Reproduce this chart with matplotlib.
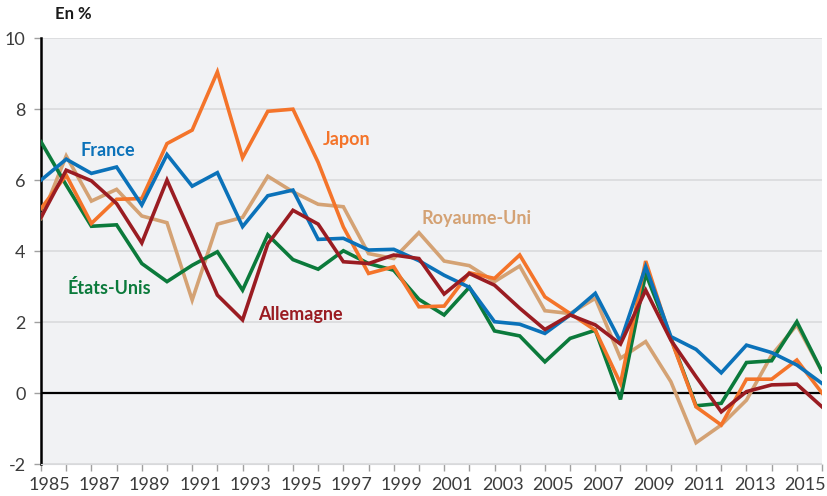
import matplotlib
matplotlib.use("Agg")
from matplotlib import pyplot as plt
import numpy as np

plt.rcParams['font.family'] = ['Lato', 'DejaVu Sans']

# années 1985 à 2016
years = list(range(1985, 2017))

france = [6.0, 6.59, 6.19, 6.37, 5.30, 6.72, 5.83, 6.21, 4.69, 5.56, 5.72, 4.33, 4.36, 4.03,
          4.05, 3.73, 3.32, 2.98, 2.01, 1.94, 1.68, 2.2, 2.81, 1.45, 3.56, 1.59, 1.23, 0.57,
          1.35, 1.14, 0.79, 0.27]
japon = [5.2, 6.14, 4.78, 5.46, 5.48, 7.03, 7.41, 9.05, 6.63, 7.94, 8.0, 6.5, 4.68, 3.37,
         3.56, 2.43, 2.45, 3.39, 3.23, 3.89, 2.71, 2.24, 1.77, 0.27, 3.72, 1.52, -0.39, -0.9,
         0.39, 0.39, 0.93, 0.0]
etats_unis = [7.08, 5.86, 4.70, 4.74, 3.65, 3.14, 3.6, 3.98, 2.90, 4.46, 3.76, 3.49, 4.01,
              3.65, 3.46, 2.64, 2.20, 2.98, 1.75, 1.61, 0.88, 1.54, 1.77, -0.18, 3.37, 1.55,
              -0.36, -0.29, 0.86, 0.91, 2.01, 0.6]
royaume_uni = [4.92, 6.68, 5.41, 5.74, 4.99, 4.8, 2.62, 4.76, 4.95, 6.11, 5.67, 5.32, 5.25,
               3.93, 3.79, 4.52, 3.72, 3.59, 3.14, 3.58, 2.32, 2.24, 2.67, 0.98, 1.45, 0.32,
               -1.4, -0.9, -0.2, 1.07, 1.92, 0.6]
allemagne = [4.95, 6.28, 5.98, 5.34, 4.23, 6.0, 4.4, 2.76, 2.06, 4.2, 5.15, 4.76, 3.70, 3.65,
             3.89, 3.79, 2.79, 3.37, 3.04, 2.39, 1.79, 2.2, 1.92, 1.38, 2.9, 1.49, 0.46, -0.53,
             0.04, 0.23, 0.25, -0.39]

series = [
    ("Royaume-Uni", royaume_uni, "#d4a274", (2000.1, 4.93)),
    ("États-Unis", etats_unis, "#0b7a3b", (1986.05, 2.95)),
    ("Japon", japon, "#f4742a", (1996.2, 7.15)),
    ("France", france, "#0b72b9", (1986.55, 6.83)),
    ("Allemagne", allemagne, "#9a1c22", (1993.6, 2.2)),
]

fig = plt.figure(figsize=(8.27, 4.96), dpi=100)
ax = fig.add_axes([0.0496, 0.0645, 0.9444, 0.8585])
ax.set_facecolor("#f1f2f4")

for name, vals, col, (lx, ly) in series:
    ax.plot(years, vals, color=col, lw=2.6, solid_joinstyle="miter", zorder=3)
    ax.text(lx, ly, name, color=col, fontsize=13, fontweight="bold", ha="left",
            va="center", zorder=4)

ax.axhline(0, color="black", lw=1.6, zorder=2)

ax.set_xlim(1985, 2016)
ax.set_ylim(-2, 10)
ax.set_yticks(range(-2, 11, 2))
ax.set_yticklabels([str(v) for v in range(-2, 11, 2)])
ax.grid(axis="y", color="#d8d9db", lw=1.1, zorder=1)

# traits de graduation chaque année, étiquettes un peu décalées à droite
ax.set_xticks(years, minor=True)
ax.set_xticks([y + 0.32 for y in years[::2]])
ax.set_xticklabels([str(y) for y in years[::2]])
ax.tick_params(axis="x", which="minor", length=5, width=1, color="#a0a0a0")
ax.tick_params(axis="x", which="major", length=0, labelsize=13,
               labelcolor="#3c3c3c", pad=9)
ax.tick_params(axis="y", length=5, width=1, color="#a0a0a0", labelsize=13,
               labelcolor="#3c3c3c", pad=6)

for s in ["top", "right"]:
    ax.spines[s].set_visible(False)
ax.spines["bottom"].set_color("#d8d9db")
ax.spines["left"].set_color("black")
ax.spines["left"].set_linewidth(1.8)

fig.text(0.066, 0.972, "En %", fontsize=12, fontweight="bold", color="#1a1a1a",
         ha="left", va="center")

fig.savefig("out.png", dpi=100)
